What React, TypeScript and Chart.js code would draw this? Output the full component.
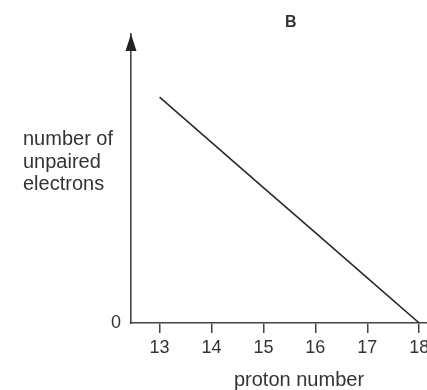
import React, { useEffect, useRef } from "react";
import { Chart, registerables } from "chart.js";

Chart.register(...registerables);

const protonNumbers = [13, 14, 15, 16, 17, 18];
const unpairedElectrons = [5, 4, 3, 2, 1, 0];
const xTickValues = [13, 14, 15, 16, 17, 18];
const yTickValues = [0];
const yTitleLines = ["number of", "unpaired", "electrons"];
const xTitle = "proton number";
const panelLabel = "B";

const FONT = "'Liberation Sans', Arial, Helvetica, sans-serif";
const INK = "#333333";
const AXIS = "#444444";

export default function App() {
  const ref = useRef<HTMLCanvasElement | null>(null);

  useEffect(() => {
    const canvas = ref.current;
    if (!canvas) return;

    const overlay = {
      id: "overlay",
      afterDraw(chart: any) {
        const { ctx, chartArea } = chart;
        const x0 = chartArea.left;
        ctx.save();
        // arrow head on y axis
        ctx.fillStyle = "#222222";
        ctx.beginPath();
        ctx.moveTo(x0, chartArea.top);
        ctx.lineTo(x0 - 5.5, chartArea.top + 17);
        ctx.lineTo(x0 + 5.5, chartArea.top + 17);
        ctx.closePath();
        ctx.fill();
        // horizontal y-axis title
        ctx.fillStyle = INK;
        ctx.font = `20px ${FONT}`;
        ctx.textAlign = "left";
        ctx.textBaseline = "alphabetic";
        yTitleLines.forEach((t, i) => ctx.fillText(t, 23, 145 + i * 22.5));
        // panel label
        ctx.font = `bold 16px ${FONT}`;
        ctx.fillText(panelLabel, 285, 26.5);
        ctx.restore();
      },
    };

    const chart = new Chart(canvas, {
      type: "line",
      data: {
        datasets: [
          {
            data: protonNumbers.map((x, i) => ({ x, y: unpairedElectrons[i] })),
            borderColor: "#2a2a2a",
            borderWidth: 1.6,
            pointRadius: 0,
            tension: 0,
            fill: false,
          },
        ],
      },
      options: {
        animation: false,
        responsive: false,
        devicePixelRatio: 1,
        layout: { padding: { top: 34, right: 53, left: 0, bottom: 0 } },
        plugins: {
          legend: { display: false },
          tooltip: { enabled: false },
          title: { display: false },
        },
        scales: {
          x: {
            type: "linear",
            min: 12.45,
            max: 18.92,
            afterBuildTicks: (s: any) => {
              s.ticks = xTickValues.map((v) => ({ value: v }));
            },
            afterFit: (s: any) => {
              s.height = 67;
            },
            grid: {
              drawOnChartArea: false,
              drawTicks: true,
              tickLength: 10,
              color: AXIS,
              lineWidth: 1.5,
            },
            border: { display: true, color: AXIS, width: 1.6 },
            ticks: {
              color: INK,
              font: { family: FONT, size: 18 },
              padding: 4,
              maxRotation: 0,
              autoSkip: false,
            },
            title: {
              display: true,
              text: xTitle,
              color: INK,
              font: { family: FONT, size: 20, lineHeight: 1 },
              padding: { top: 0, bottom: 0 },
            },
          },
          y: {
            type: "linear",
            min: 0,
            max: 6.4,
            afterBuildTicks: (s: any) => {
              s.ticks = yTickValues.map((v) => ({ value: v }));
            },
            afterFit: (s: any) => {
              s.width = 131;
            },
            grid: { drawOnChartArea: false, drawTicks: false },
            border: { display: true, color: AXIS, width: 1.6 },
            ticks: {
              color: INK,
              font: { family: FONT, size: 18 },
              padding: 10,
            },
          },
        },
      },
      plugins: [overlay],
    });

    return () => chart.destroy();
  }, []);

  return (
    <div
      style={{
        position: "absolute",
        left: 0,
        top: 0,
        width: 427,
        height: 390,
        overflow: "hidden",
        background: "#ffffff",
      }}
    >
      <canvas ref={ref} width={520} height={390} style={{ display: "block" }} />
    </div>
  );
}
